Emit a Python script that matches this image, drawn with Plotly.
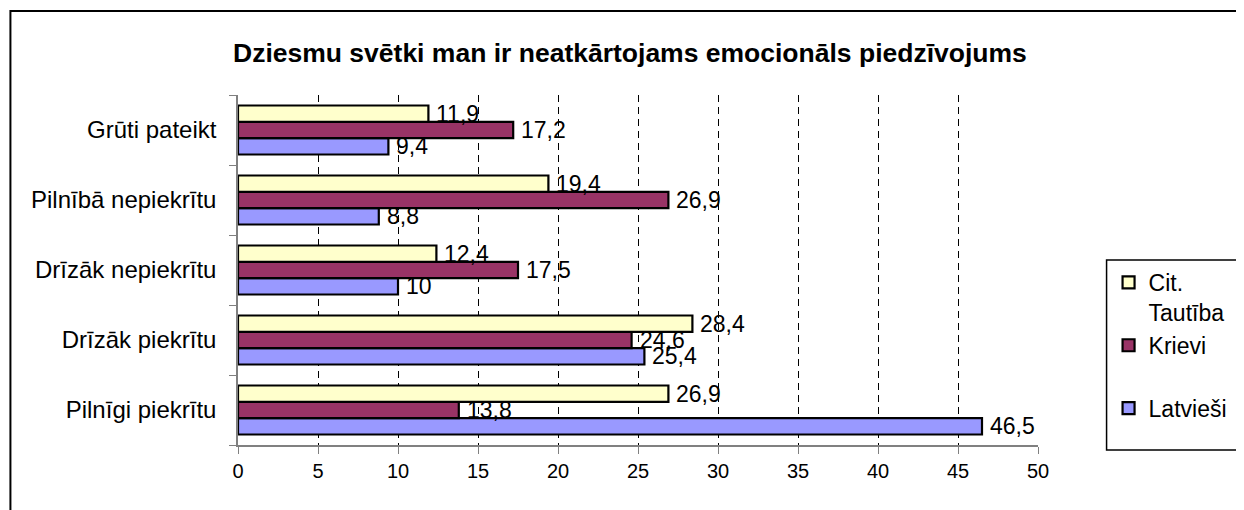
import plotly.graph_objects as go

categories = ["Pilnīgi piekrītu", "Drīzāk piekrītu", "Drīzāk nepiekrītu",
              "Pilnībā nepiekrītu", "Grūti pateikt"]
latviesi = [46.5, 25.4, 10, 8.8, 9.4]
krievi = [13.8, 24.6, 17.5, 26.9, 17.2]
cit = [26.9, 28.4, 12.4, 19.4, 11.9]
x_ticks = [0, 5, 10, 15, 20, 25, 30, 35, 40, 45, 50]

# (legend name, values, colour, vertical label offset in px, legend rank)
series = [
    ("Latvieši", latviesi, "#9999FF", -16.3, 3),
    ("Krievi<br>\u00a0", krievi, "#993366", 0, 2),
    ("Cit.<br>Tautība", cit, "#FFFFCC", 16.3, 1),
]

def fmt(v):
    return ("%g" % v).replace(".", ",")

FONT = "Liberation Sans, Arial"

fig = go.Figure()
for name, vals, col, _, rank in series:
    fig.add_trace(go.Bar(
        y=categories, x=vals, name=name, orientation="h",
        marker=dict(color=col, line=dict(color="black", width=2.2)),
        legendrank=rank,
    ))

annotations = []
for name, vals, col, off, _ in series[::-1]:
    for c, v in zip(categories, vals):
        annotations.append(dict(
            x=v, y=c, xref="x", yref="y", text=fmt(v), showarrow=False,
            xanchor="left", yanchor="middle", xshift=6, yshift=off,
            font=dict(family=FONT, size=23, color="black"),
        ))

# page offset (body margin) compensation
OX, OY = 8, 8
W, H = 1244 - OX, 510 - OY
L = 238 - OX
T = 95 - OY
B = H - (445 - OY)
R = W - (1043 - OX)
pw, ph = W - L - R, H - T - B

def px(x):
    return (x - OX - L) / pw

def py(y):
    return (H - B - (y - OY)) / ph

annotations.append(dict(
    x=px(632), y=py(53), xref="paper", yref="paper",
    text="<b>Dziesmu svētki man ir neatkārtojams emocionāls piedzīvojums</b>",
    showarrow=False, xanchor="center", yanchor="middle",
    font=dict(family=FONT, size=26.5, color="black"),
))

shapes = [
    dict(type="rect", xref="paper", yref="paper",
         x0=px(9), x1=px(1270), y0=py(540), y1=py(11),
         line=dict(color="black", width=2), fillcolor="rgba(0,0,0,0)"),
    dict(type="rect", xref="paper", yref="paper",
         x0=px(1112), x1=px(1270), y0=py(450), y1=py(260),
         line=dict(color="black", width=1.5), fillcolor="rgba(0,0,0,0)"),
]

fig.update_layout(
    width=W, height=H,
    margin=dict(l=L, r=R, t=T, b=B, pad=0),
    paper_bgcolor="white", plot_bgcolor="white",
    barmode="group", bargap=0.3, bargroupgap=0,
    font=dict(family=FONT, size=23, color="black"),
    showlegend=True,
    legend=dict(
        x=px(1114), y=py(261), xanchor="left", yanchor="top",
        traceorder="normal", valign="top",
        font=dict(family=FONT, size=23, color="black"),
        bgcolor="rgba(0,0,0,0)", borderwidth=0,
        itemwidth=30,
    ),
    annotations=annotations,
    shapes=shapes,
)

fig.update_xaxes(
    range=[0, 50], tickvals=x_ticks, ticktext=[str(t) for t in x_ticks],
    showgrid=True, gridcolor="black", griddash="7px,5px", gridwidth=1,
    showline=True, linecolor="#808080", linewidth=1.5,
    ticks="outside", ticklen=7, tickcolor="#808080",
    tickfont=dict(family=FONT, size=20), zeroline=False,
)
fig.update_yaxes(
    type="category", categoryorder="array", categoryarray=categories,
    showgrid=False, showline=True, linecolor="#808080", linewidth=1.5,
    ticks="outside", ticklen=7, tickcolor="#808080", tickson="boundaries",
    tickfont=dict(family=FONT, size=24), ticklabelstandoff=15,
)

fig.write_html("out.html")
